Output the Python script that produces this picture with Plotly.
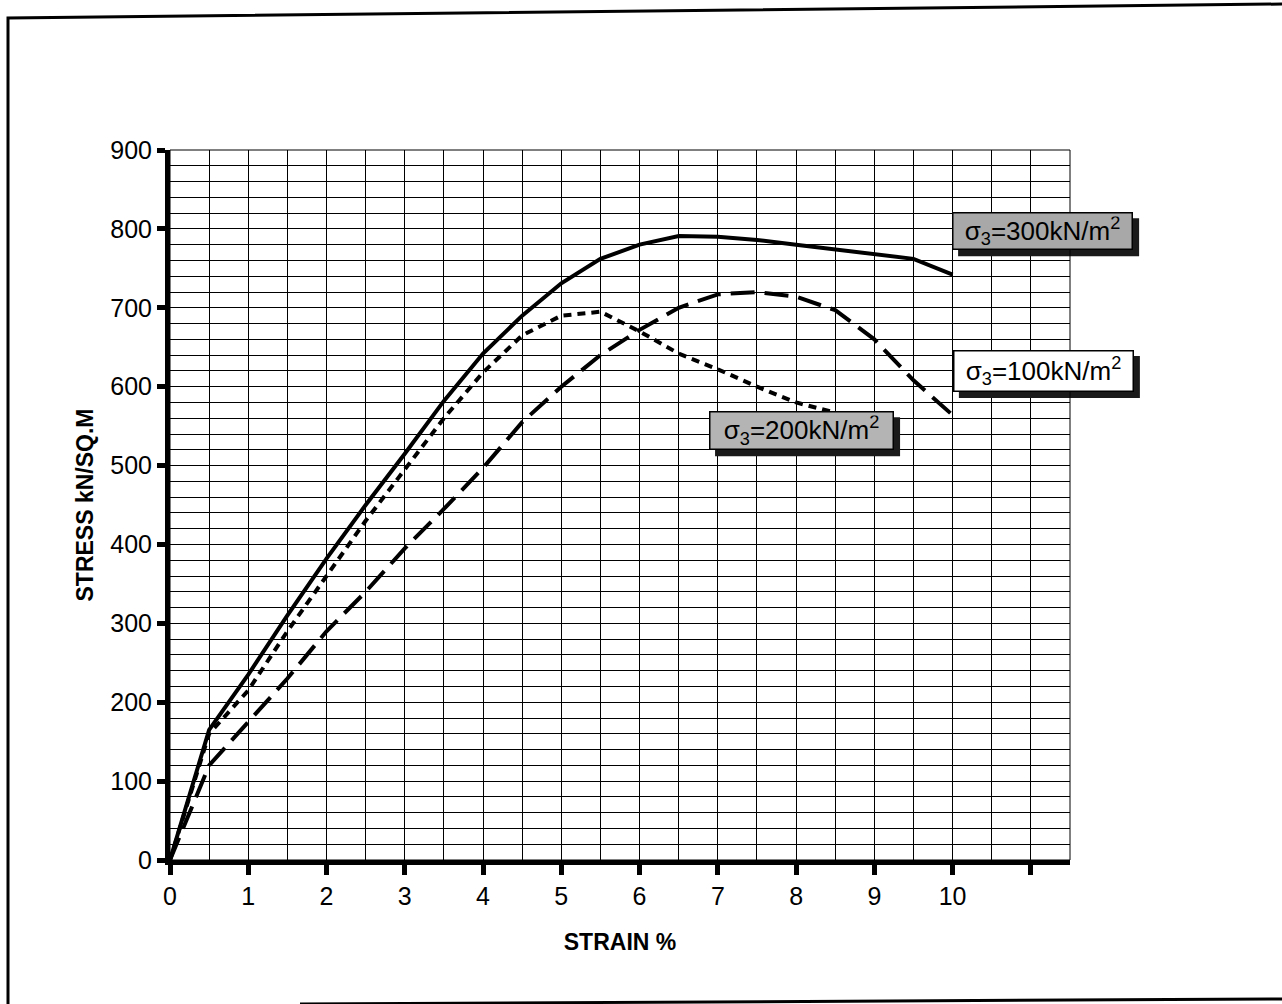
import plotly.graph_objects as go

# Triaxial test: deviator stress vs axial strain for three confining pressures
strain = [0, 0.5, 1, 1.5, 2, 2.5, 3, 3.5, 4, 4.5, 5, 5.5, 6, 6.5, 7, 7.5, 8, 8.5, 9, 9.5, 10]

stress_300 = [0, 165, 235, 310, 382, 450, 515, 582, 642, 690, 731, 762, 780, 791, 790, 786, 780, 774, 768, 762, 742]
stress_100 = [0, 120, 175, 230, 290, 340, 395, 445, 497, 555, 600, 640, 672, 700, 717, 720, 714, 697, 660, 608, 564]
strain_200 = [0, 0.5, 1, 1.5, 2, 2.5, 3, 3.5, 4, 4.5, 5, 5.5, 6, 6.5, 7, 7.5, 8, 8.5]
stress_200 = [0, 160, 215, 290, 360, 430, 495, 560, 618, 665, 690, 695, 670, 642, 622, 600, 580, 567]

x_ticks = list(range(0, 12))
x_tick_text = [str(v) for v in range(0, 11)] + [" "]
y_ticks = list(range(0, 1000, 100))

X_RANGE = [0, 11.5]
Y_RANGE = [0, 900]

label_300 = "σ<sub>3</sub>=300kN/m<sup>2</sup>"
label_100 = "σ<sub>3</sub>=100kN/m<sup>2</sup>"
label_200 = "σ<sub>3</sub>=200kN/m<sup>2</sup>"

FONT = "Liberation Sans, Arial, sans-serif"

fig = go.Figure()

fig.add_trace(go.Scatter(x=strain, y=stress_300, mode="lines",
                         line=dict(color="black", width=4), name=label_300))
fig.add_trace(go.Scatter(x=strain, y=stress_100, mode="lines",
                         line=dict(color="black", width=4, dash="24px,10px"), name=label_100))
fig.add_trace(go.Scatter(x=strain_200, y=stress_200, mode="lines",
                         line=dict(color="black", width=4, dash="8px,6px"), name=label_200))

fig.update_xaxes(
    range=X_RANGE, tickvals=x_ticks, ticktext=x_tick_text,
    showgrid=True, gridcolor="black", gridwidth=1,
    minor=dict(dtick=0.5, showgrid=True, gridcolor="black", gridwidth=1),
    showline=True, linecolor="black", linewidth=5,
    ticks="outside", ticklen=10, tickwidth=5, tickcolor="black",
    tickfont=dict(family=FONT, size=25, color="black"),
    title=dict(text="<b>STRAIN %</b>", font=dict(family=FONT, size=23, color="black"), standoff=26),
    zeroline=False, fixedrange=True,
)
fig.update_yaxes(
    range=Y_RANGE, tickvals=y_ticks,
    showgrid=True, gridcolor="black", gridwidth=1,
    minor=dict(dtick=20, showgrid=True, gridcolor="black", gridwidth=1),
    showline=True, linecolor="black", linewidth=5,
    ticks="outside", ticklen=8, tickwidth=5, tickcolor="black",
    tickfont=dict(family=FONT, size=25, color="black"),
    title=dict(text="<b>STRESS kN/SQ.M</b>", font=dict(family=FONT, size=23, color="black"), standoff=12),
    zeroline=False, fixedrange=True,
)

# Curve labels: boxed text with a dark drop shadow offset down-right
boxes = [
    (label_300, 11.15, 797, "#a8a8a8", 172, 29),
    (label_100, 11.16, 620, "white", 172, 33),
    (label_200, 8.07, 544, "#b4b4b4", 176, 30),
]
BOX_PAD = 3
SHADOW = 6
annotations = []
shapes = []
for text, bx, by, fill, w, h in boxes:
    annotations.append(dict(x=bx, y=by, xref="x", yref="y", text=text, showarrow=False,
                            width=w, height=h, align="center", valign="middle",
                            borderwidth=1.5, borderpad=BOX_PAD,
                            font=dict(family=FONT, size=26, color="black"),
                            bgcolor=fill, bordercolor="black"))
    half_w = w / 2 + BOX_PAD + 1.5
    half_h = h / 2 + BOX_PAD + 1.5
    # paper-anchored so the shadow is not clipped at the plot edge
    shapes.append(dict(type="rect", xref="paper", yref="paper",
                       xsizemode="pixel", ysizemode="pixel",
                       xanchor=(bx - X_RANGE[0]) / (X_RANGE[1] - X_RANGE[0]),
                       yanchor=(by - Y_RANGE[0]) / (Y_RANGE[1] - Y_RANGE[0]),
                       x0=-half_w + SHADOW, x1=half_w + SHADOW,
                       y0=-half_h - SHADOW, y1=half_h - SHADOW,
                       fillcolor="#1a1a1a", line=dict(width=0), layer="above"))

# Thin frame along the top and right of the plotting area
shapes.append(dict(type="rect", xref="paper", yref="paper", x0=0, x1=1, y0=0, y1=1,
                   line=dict(color="black", width=1), layer="above"))

# Outer page border (slightly skewed)
def px(xp):
    return (xp - 170) / 900

def py(yp):
    return (860 - yp) / 710

border_path = (f"M {px(1282)},{py(4)} L {px(8)},{py(18)} L {px(8)},{py(1006)} "
               f"M {px(300)},{py(1004)} L {px(1282)},{py(999)}")
shapes.append(dict(type="path", xref="paper", yref="paper", path=border_path,
                   line=dict(color="black", width=3), layer="above"))

fig.update_layout(
    width=1282, height=1004,
    margin=dict(l=170, r=212, t=150, b=144),
    paper_bgcolor="white", plot_bgcolor="white",
    showlegend=False,
    shapes=shapes, annotations=annotations,
)

fig.write_html("out.html")
